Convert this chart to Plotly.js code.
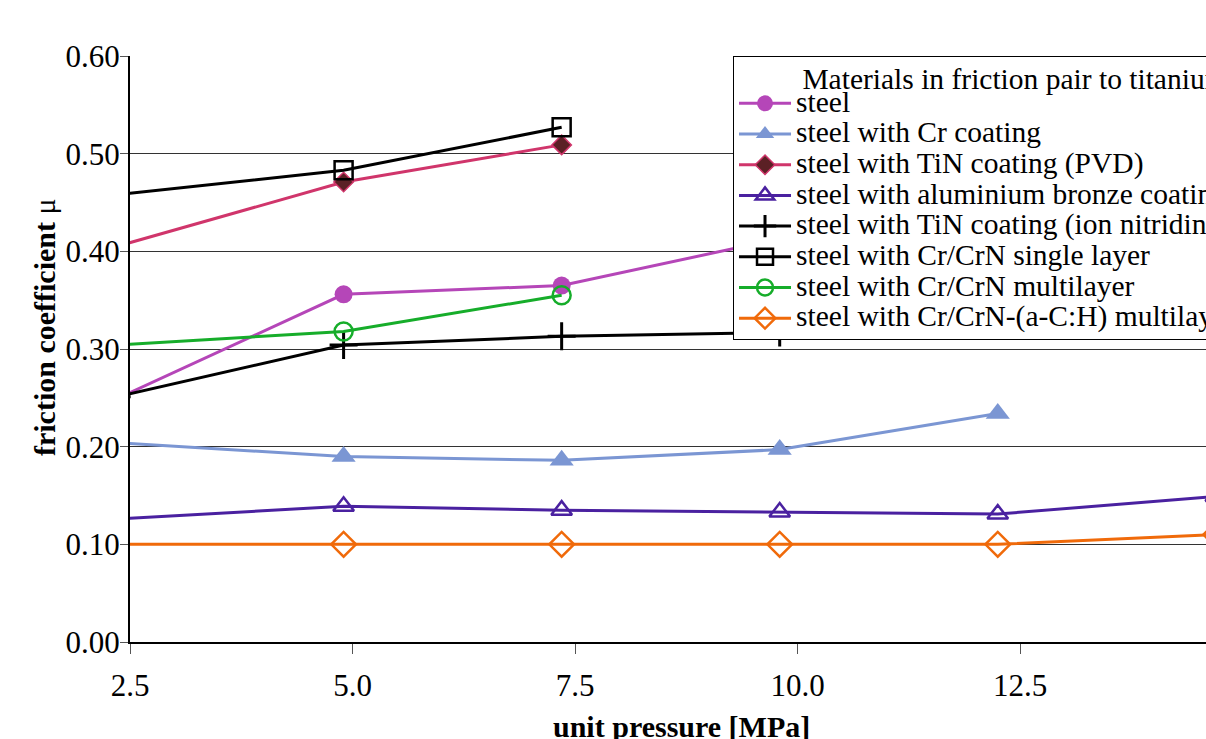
<!DOCTYPE html>
<html>
<head>
<meta charset="utf-8">
<script src="https://cdn.plot.ly/plotly-3.0.1.min.js"></script>
<style>
html, body { margin: 0; padding: 0; overflow: hidden; background: #ffffff; }
#wrap { width: 1206px; height: 739px; overflow: hidden; position: relative; }
#chart { width: 1300px; height: 739px; }
</style>
</head>
<body>
<div id="wrap"><div id="chart"></div></div>
<script>
// unit pressure [MPa]
const pressure = [2.35, 4.9, 7.35, 9.8, 12.25, 14.7];

const legendTitle = 'Materials in friction pair to titanium';
const seriesNames = [
  'steel',
  'steel with Cr coating',
  'steel with TiN coating (PVD)',
  'steel with aluminium bronze coating',
  'steel with TiN coating (ion nitriding)',
  'steel with Cr/CrN single layer',
  'steel with Cr/CrN multilayer',
  'steel with Cr/CrN-(a-C:H) multilayer'
];
const xTitle = 'unit pressure [MPa]';
const yTitle = 'friction coefficient';

// friction coefficient values
const steel            = [0.249, 0.356, 0.365, 0.413];
const steelCr          = [0.204, 0.190, 0.186, 0.197, 0.234];
const steelTiNPVD      = [0.405, 0.471, 0.509];
const steelAlBronze    = [0.126, 0.139, 0.135, 0.133, 0.131, 0.149];
const steelTiNIon      = [0.251, 0.304, 0.313, 0.317];
const steelCrCrNSingle = [0.458, 0.483, 0.527];
const steelCrCrNMulti  = [0.304, 0.318, 0.355];
const steelCrCrNaCH    = [0.100, 0.100, 0.100, 0.100, 0.100, 0.110];

const seriesValues = [steel, steelCr, steelTiNPVD, steelAlBronze, steelTiNIon,
                      steelCrCrNSingle, steelCrCrNMulti, steelCrCrNaCH];

const styles = [
  {color: '#b546b8', marker: {symbol: 'circle', size: 18, color: '#b546b8'}},
  {color: '#7b96d3', marker: {symbol: 'triangle-up', size: 21, color: '#7b96d3'}},
  {color: '#d0356b', marker: {symbol: 'diamond', size: 15, color: '#5b2025', line: {color: '#d0356b', width: 1.5}}},
  {color: '#4a21a0', marker: {symbol: 'triangle-up-open', size: 18, color: '#4a21a0', line: {width: 2.5, color: '#4a21a0'}}},
  {color: '#000000', marker: {symbol: 'cross-thin', size: 20, color: '#000000', line: {width: 3, color: '#000000'}}},
  {color: '#000000', marker: {symbol: 'square-open', size: 18, color: '#000000', line: {width: 2.5, color: '#000000'}}},
  {color: '#16ad2a', marker: {symbol: 'circle-open', size: 18, color: '#16ad2a', line: {width: 2.5, color: '#16ad2a'}}},
  {color: '#f06a0a', marker: {symbol: 'diamond-open', size: 19, color: '#f06a0a', line: {width: 2.5, color: '#f06a0a'}}}
];

const NBSP = '\u00A0';
const big = s => '<span style="font-size:29.5px">' + s + '</span>';

const traces = seriesValues.map((vals, i) => ({
  type: 'scatter',
  mode: 'lines+markers',
  x: pressure.slice(0, vals.length),
  y: vals,
  name: big(seriesNames[i]),
  line: {color: styles[i].color, width: 3},
  marker: styles[i].marker
}));

const FONT = 'Liberation Serif';

const layout = {
  width: 1300,
  height: 739,
  margin: {l: 130, r: 68, t: 56, b: 97, autoexpand: false},
  paper_bgcolor: '#ffffff',
  plot_bgcolor: '#ffffff',
  font: {family: FONT, color: '#000000', size: 30},
  showlegend: true,
  legend: {
    x: 0.5472, y: 1, xanchor: 'left', yanchor: 'top',
    bgcolor: '#ffffff', bordercolor: '#000000', borderwidth: 1,
    font: {family: FONT, size: 21.3, color: '#000000'},
    itemwidth: 52,
    tracegroupgap: 0,
    title: {
      text: '<span style="font-size:29.5px;baseline-shift:-6px">' + NBSP.repeat(9) + legendTitle + '</span>',
      side: 'top',
      font: {family: FONT, size: 20, color: '#000000'}
    }
  },
  annotations: [{
    xref: 'paper', yref: 'paper',
    x: -0.078, y: 0.5375,
    xanchor: 'center', yanchor: 'middle',
    textangle: -90,
    showarrow: false,
    text: '<b>' + yTitle + '</b> μ',
    font: {family: FONT, size: 30, color: '#000000'}
  }, {
    xref: 'paper', yref: 'paper',
    x: 0.5, y: -0.145,
    xanchor: 'center', yanchor: 'middle',
    showarrow: false,
    text: '<b>' + xTitle + '</b>',
    font: {family: FONT, size: 30, color: '#000000'}
  }],
  xaxis: {
    range: [2.5, 14.882],
    tick0: 2.5, dtick: 2.5,
    tickformat: '.1f',
    showgrid: false,
    zeroline: false,
    showline: true, linecolor: '#000000', linewidth: 2,
    ticks: 'outside', ticklen: 10, tickwidth: 1, tickcolor: '#555555',
    ticklabelstandoff: 5,
    tickfont: {family: FONT, size: 31, color: '#000000'},
    automargin: false
  },
  yaxis: {
    range: [0, 0.6],
    tick0: 0, dtick: 0.1,
    tickformat: '.2f',
    showgrid: true, gridcolor: '#333333', gridwidth: 1,
    zeroline: false,
    showline: true, linecolor: '#000000', linewidth: 2,
    ticks: 'outside', ticklen: 8, tickwidth: 1, tickcolor: '#555555',
    ticklabelstandoff: -6,
    tickfont: {family: FONT, size: 31, color: '#000000'},
    automargin: false
  }
};

Plotly.newPlot('chart', traces, layout, {displayModeBar: false, staticPlot: true});
</script>
</body>
</html>
